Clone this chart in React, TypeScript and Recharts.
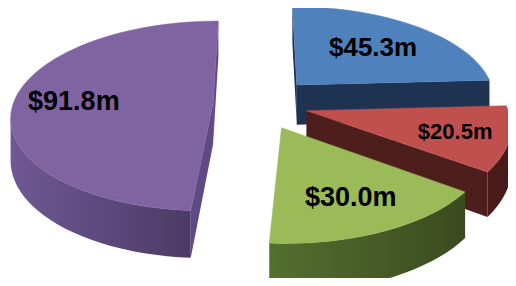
import React from 'react';
import { PieChart, Pie, Cell } from 'recharts';

// slice data, clockwise from 12 o'clock
const categories = ['Slice A', 'Slice B', 'Slice C', 'Slice D'];
const values = [45.3, 20.5, 30.0, 91.8];
const labels = ['$45.3m', '$20.5m', '$30.0m', '$91.8m'];

// styling per slice
const topColors = ['#4F81BD', '#C0504D', '#9BBB59', '#8064A2'];
const sideLight = ['#243d60', '#55201f', '#53702e', '#6f5895'];
const sideDark = ['#1c304d', '#471a19', '#3b4a20', '#46365e'];
const edgeColors = ['#1e3352', '#4e1e1d', '#4a6228', '#5f4a84'];
const explode = [58, 50, 54, 45];
const labelRadius = [0.62, 0.74, 0.7, 0.7];
const labelSize = [26, 22, 27, 27];

const data = categories.map((name, i) => ({ name, value: values[i] }));

const TILT = 0.467;
const FOCAL = 1500;
const DEPTH = 41;
const RAD = Math.PI / 180;

// plane (x, z) -> screen, z > 0 is towards the back
function project(cx: number, cy: number, x: number, z: number, h: number) {
  const s = FOCAL / (FOCAL + z);
  return [cx + x * s, cy - TILT * z * s + h * s];
}

function area(poly: number[][]) {
  let a = 0;
  for (let k = 0; k < poly.length; k++) {
    const [x1, y1] = poly[k];
    const [x2, y2] = poly[(k + 1) % poly.length];
    a += x1 * y2 - x2 * y1;
  }
  return a / 2;
}

const toD = (poly: number[][]) =>
  'M' + poly.map(([x, y]) => `${x.toFixed(2)},${y.toFixed(2)}`).join('L') + 'Z';

function sliceIndex(props: any) {
  const nm = props.payload?.name ?? props.name;
  const i = categories.indexOf(nm);
  return i >= 0 ? i : props.index ?? 0;
}

const Slice3D = (props: any) => {
  const { cx, cy, outerRadius, startAngle, endAngle, midAngle } = props;
  const i = sliceIndex(props);
  const ox = explode[i] * Math.cos(midAngle * RAD);
  const oz = explode[i] * Math.sin(midAngle * RAD);

  const pts: number[][] = [[ox, oz]];
  const steps = Math.max(8, Math.ceil(Math.abs(endAngle - startAngle) / 3));
  for (let k = 0; k <= steps; k++) {
    const a = (startAngle + ((endAngle - startAngle) * k) / steps) * RAD;
    pts.push([ox + outerRadius * Math.cos(a), oz + outerRadius * Math.sin(a)]);
  }

  const topPts = pts.map((p) => project(cx, cy, p[0], p[1], 0));
  const botPts = pts.map((p) => project(cx, cy, p[0], p[1], DEPTH));
  const topSign = Math.sign(area(topPts));
  const n = pts.length;

  const visible = (k: number) => {
    const q = (k + 1) % n;
    const a = area([topPts[k], topPts[q], botPts[q], botPts[k]]);
    return Math.sign(a) !== topSign && Math.abs(a) > 0.01;
  };

  // arc wall: runs of visible segments as single bands
  const bands: string[] = [];
  let run: number[] = [];
  const flush = () => {
    if (run.length) {
      const idx = [...run, run[run.length - 1] + 1];
      const poly = [...idx.map((k) => topPts[k]), ...idx.slice().reverse().map((k) => botPts[k])];
      bands.push(toD(poly));
      run = [];
    }
  };
  for (let k = 1; k < n - 1; k++) {
    if (visible(k)) run.push(k);
    else flush();
  }
  flush();

  const radialWalls = [0, n - 1]
    .filter((k) => visible(k))
    .map((k) => {
      const q = (k + 1) % n;
      return toD([topPts[k], topPts[q], botPts[q], botPts[k]]);
    });

  const xs = topPts.map((p) => p[0]);
  const gradId = `side-grad-${i}`;

  return (
    <g>
      <defs>
        <linearGradient
          id={gradId}
          gradientUnits="userSpaceOnUse"
          x1={Math.min(...xs)}
          y1={0}
          x2={Math.max(...xs)}
          y2={0}
        >
          <stop offset="0%" stopColor={sideLight[i]} />
          <stop offset="100%" stopColor={sideDark[i]} />
        </linearGradient>
      </defs>
      {bands.map((d, k) => (
        <path key={`b${k}`} d={d} fill={`url(#${gradId})`} />
      ))}
      {radialWalls.map((d, k) => (
        <path key={`r${k}`} d={d} fill={edgeColors[i]} />
      ))}
      <path d={toD(topPts)} fill={topColors[i]} stroke={topColors[i]} strokeWidth={0.5} />
    </g>
  );
};

const renderLabel = (props: any) => {
  const { cx, cy, outerRadius, midAngle } = props;
  const i = sliceIndex(props);
  const m = midAngle * RAD;
  const x = (explode[i] + labelRadius[i] * outerRadius) * Math.cos(m);
  const z = (explode[i] + labelRadius[i] * outerRadius) * Math.sin(m);
  const [X, Y] = project(cx, cy, x, z, 0);
  return (
    <text
      x={X}
      y={Y}
      textAnchor="middle"
      dominantBaseline="central"
      fontSize={labelSize[i]}
      fontWeight="bold"
      fontFamily="'Liberation Sans', Arial, sans-serif"
      fill="#000"
    >
      {labels[i]}
    </text>
  );
};

export default function App() {
  return (
    <div style={{ margin: -8, width: 516, height: 286, background: '#fff' }}>
      <PieChart width={516} height={286}>
        <Pie
          data={data}
          dataKey="value"
          nameKey="name"
          cx={253}
          cy={99}
          outerRadius={200}
          startAngle={90}
          endAngle={-270}
          stroke="none"
          shape={Slice3D}
          label={renderLabel}
          labelLine={false}
          isAnimationActive={false}
        >
          {data.map((d, i) => (
            <Cell key={d.name} fill={topColors[i]} />
          ))}
        </Pie>
      </PieChart>
    </div>
  );
}
